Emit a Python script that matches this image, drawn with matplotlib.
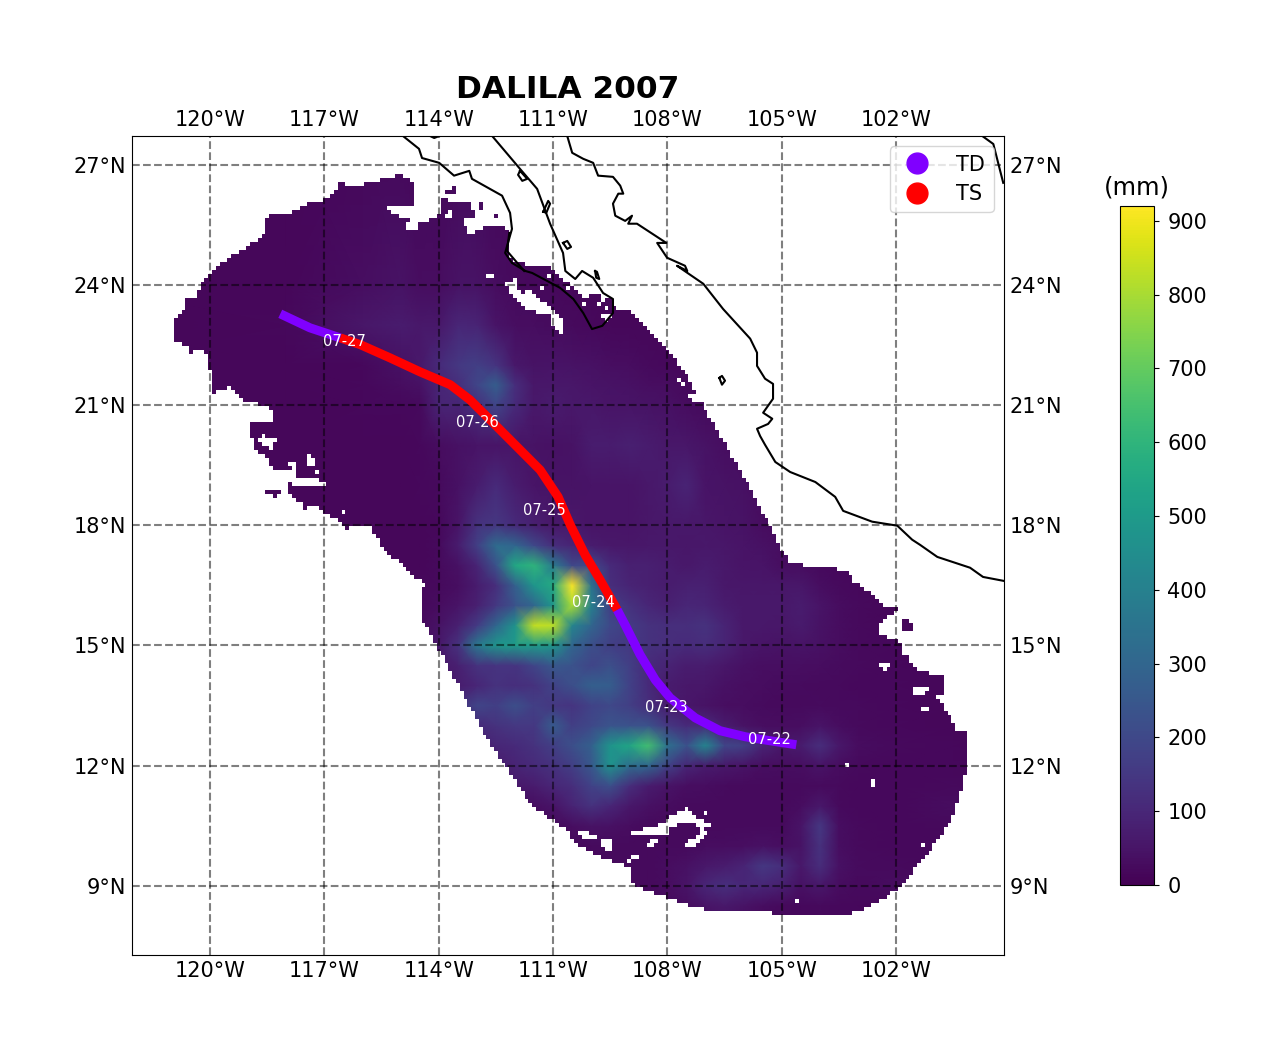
import numpy as np
import matplotlib
matplotlib.use("Agg")
import matplotlib.pyplot as plt
from matplotlib.colors import ListedColormap
from matplotlib.lines import Line2D
from matplotlib.path import Path

### rainfall (mm), rows south to north ###
rain_lon = [-123, -118, -116, -115, -114.5, -114, -113.5, -113, -112.5, -112, -111.5, -111, -110.5, -110, -109.5, -109,
            -108.5, -108, -107.5, -107, -106.5, -106, -105.5, -105, -104.5, -104, -103.5, -103, -102, -100.5, -99]
rain_lat = [7, 8.5, 9, 9.5, 10, 10.5, 11, 11.5, 12, 12.5, 13, 13.5, 14, 14.5, 15, 15.5, 16, 16.5, 17, 17.5, 18, 19, 20, 21, 21.5, 22, 23, 24, 28]
rain = [
    [15, 15, 15, 15, 15, 15, 15, 15, 15, 15, 15, 15, 15, 15, 15, 15, 15, 15, 15, 15, 15, 15, 15, 15, 15, 15, 15, 15, 15, 15, 15],
    [15, 15, 15, 15, 15, 15, 15, 15, 15, 15, 15, 15, 15, 15, 15, 20, 22, 25, 30, 50, 60, 45, 30, 25, 20, 22, 18, 18, 15, 15, 15],
    [15, 15, 15, 15, 15, 15, 15, 15, 15, 15, 15, 15, 15, 18, 20, 25, 25, 30, 50, 100, 125, 100, 100, 80, 40, 60, 30, 25, 30, 20, 15],
    [15, 15, 15, 15, 15, 15, 15, 15, 15, 15, 15, 15, 15, 18, 22, 25, 25, 30, 40, 60, 70, 90, 150, 120, 60, 120, 40, 28, 25, 20, 15],
    [15, 15, 15, 15, 15, 15, 15, 15, 15, 15, 15, 18, 20, 25, 25, 22, 22, 22, 25, 30, 30, 35, 40, 35, 45, 130, 35, 25, 20, 18, 15],
    [15, 15, 15, 15, 15, 15, 15, 15, 15, 15, 20, 25, 35, 45, 40, 30, 25, 22, 22, 22, 22, 22, 25, 25, 50, 150, 35, 22, 20, 25, 15],
    [15, 15, 15, 15, 15, 15, 15, 15, 15, 25, 35, 50, 90, 130, 100, 60, 40, 30, 25, 22, 22, 22, 22, 22, 30, 60, 25, 20, 20, 30, 15],
    [15, 15, 15, 15, 15, 15, 15, 15, 30, 60, 70, 100, 120, 180, 220, 120, 70, 50, 35, 30, 28, 25, 22, 22, 22, 28, 22, 20, 20, 25, 15],
    [15, 15, 15, 15, 15, 15, 15, 40, 70, 90, 110, 130, 170, 250, 470, 330, 300, 180, 100, 70, 60, 50, 35, 30, 35, 50, 30, 22, 20, 20, 15],
    [15, 15, 15, 15, 15, 15, 30, 70, 100, 110, 130, 170, 220, 280, 480, 540, 640, 340, 230, 420, 190, 170, 90, 60, 70, 120, 60, 30, 25, 18, 15],
    [15, 15, 15, 15, 15, 25, 60, 110, 130, 150, 150, 260, 170, 200, 240, 230, 230, 150, 110, 110, 70, 45, 35, 30, 35, 50, 30, 25, 20, 15, 15],
    [15, 15, 15, 15, 18, 40, 120, 190, 170, 220, 170, 150, 140, 180, 200, 170, 120, 70, 55, 45, 35, 30, 28, 25, 25, 28, 25, 22, 18, 15, 15],
    [15, 15, 15, 15, 20, 40, 70, 100, 130, 120, 130, 180, 220, 280, 270, 180, 110, 70, 60, 55, 40, 35, 30, 28, 28, 25, 22, 20, 18, 15, 15],
    [15, 15, 15, 15, 25, 60, 80, 130, 140, 140, 190, 250, 230, 190, 220, 170, 110, 90, 70, 70, 55, 40, 35, 35, 35, 30, 28, 22, 18, 15, 15],
    [15, 15, 15, 18, 30, 60, 130, 370, 480, 500, 500, 480, 300, 220, 170, 150, 130, 120, 110, 120, 90, 60, 50, 45, 50, 40, 30, 22, 18, 15, 15],
    [15, 15, 15, 18, 25, 45, 80, 160, 300, 470, 840, 830, 420, 300, 200, 160, 130, 120, 120, 130, 90, 60, 60, 55, 65, 45, 30, 22, 15, 15, 15],
    [15, 15, 15, 16, 20, 30, 50, 80, 150, 230, 300, 480, 800, 400, 170, 130, 100, 80, 100, 90, 70, 60, 60, 60, 70, 50, 30, 22, 15, 15, 15],
    [15, 15, 15, 15, 18, 25, 35, 70, 120, 280, 480, 560, 920, 350, 120, 90, 80, 70, 80, 80, 60, 55, 55, 55, 55, 35, 25, 20, 15, 15, 15],
    [15, 15, 15, 15, 15, 22, 40, 90, 230, 550, 600, 380, 200, 200, 110, 80, 80, 70, 60, 70, 60, 50, 50, 35, 30, 25, 20, 18, 15, 15, 15],
    [15, 15, 15, 15, 15, 22, 70, 170, 320, 300, 200, 120, 90, 70, 60, 55, 60, 60, 55, 60, 55, 50, 40, 30, 25, 20, 18, 15, 15, 15, 15],
    [15, 15, 15, 15, 15, 20, 50, 130, 150, 110, 80, 60, 60, 50, 50, 50, 55, 60, 60, 55, 50, 45, 30, 25, 20, 18, 15, 15, 15, 15, 15],
    [15, 15, 15, 15, 18, 22, 40, 70, 110, 70, 50, 45, 45, 50, 50, 50, 60, 70, 90, 50, 45, 40, 30, 22, 18, 15, 15, 15, 15, 15, 15],
    [15, 15, 15, 15, 18, 30, 40, 50, 50, 50, 45, 40, 45, 70, 70, 80, 70, 60, 55, 45, 35, 25, 20, 15, 15, 15, 15, 15, 15, 15, 15],
    [15, 15, 18, 20, 25, 90, 90, 120, 190, 110, 60, 70, 60, 60, 50, 50, 45, 40, 30, 25, 20, 15, 15, 15, 15, 15, 15, 15, 15, 15, 15],
    [15, 15, 18, 30, 40, 95, 120, 190, 270, 120, 55, 60, 55, 50, 45, 40, 35, 30, 25, 20, 18, 15, 15, 15, 15, 15, 15, 15, 15, 15, 15],
    [15, 15, 20, 40, 60, 110, 150, 170, 140, 60, 45, 50, 45, 40, 35, 30, 25, 20, 15, 15, 15, 15, 15, 15, 15, 15, 15, 15, 15, 15, 15],
    [15, 18, 55, 70, 60, 60, 100, 90, 50, 35, 30, 28, 25, 20, 15, 15, 15, 15, 15, 15, 15, 15, 15, 15, 15, 15, 15, 15, 15, 15, 15],
    [15, 15, 35, 45, 30, 30, 45, 45, 30, 25, 20, 18, 15, 15, 15, 15, 15, 15, 15, 15, 15, 15, 15, 15, 15, 15, 15, 15, 15, 15, 15],
    [15, 15, 15, 15, 15, 15, 15, 15, 15, 15, 15, 15, 15, 15, 15, 15, 15, 15, 15, 15, 15, 15, 15, 15, 15, 15, 15, 15, 15, 15, 15],
]

### edge of the rain area, lon/lat ###
swath_lon = [-121.00, -120.68, -120.60, -120.34, -120.26, -119.90, -119.42, -118.90, -118.50, -118.58, -118.40, -117.93, -117.40, -116.88, -116.62, -116.01, -115.80, -115.22, -115.09, -114.62, -114.62, -114.78, -115.41, -115.28, -114.78, -114.83, -114.57, -114.52, -113.99, -113.91, -113.47, -113.20, -113.05, -113.39, -113.18, -112.68, -112.15, -112.15, -112.00, -111.55, -111.03, -110.82, -110.47, -110.16, -109.95, -109.50, -109.37, -108.93, -108.40, -108.01, -107.40, -107.27, -107.46, -107.33, -107.09, -106.70, -105.96, -105.12, -104.78, -104.60, -104.44, -103.94, -103.47, -103.18, -103.15, -102.94, -102.21, -102.08, -101.97, -102.21, -102.50, -102.42, -102.03, -101.89, -101.89, -101.68, -101.45, -101.11, -100.79, -100.69, -100.98, -100.58, -100.37, -100.19, -100.19, -100.29, -100.48, -100.77, -101.29, -101.92, -102.29, -102.84, -103.47, -103.84, -104.02, -104.23, -104.39, -105.28, -105.28, -106.72, -107.17, -108.09, -108.72, -108.98, -108.95, -109.53, -109.98, -110.53, -110.58, -110.97, -111.39, -111.71, -112.21, -112.60, -112.99, -113.70, -113.99, -114.17, -114.49, -114.49, -114.36, -114.75, -115.41, -115.67, -115.75, -116.20, -116.41, -116.67, -117.03, -117.24, -117.51, -117.56, -117.90, -117.98, -117.82, -117.45, -116.85, -117.03, -117.30, -117.72, -117.72, -118.35, -118.50, -118.82, -118.90, -119.00, -118.90, -118.35, -118.32, -118.64, -119.08, -119.50, -119.90, -120.03, -120.13, -120.52, -120.60, -120.92]
swath_lat = [22.98, 23.43, 23.68, 23.68, 23.98, 24.40, 24.73, 25.03, 25.30, 25.60, 25.73, 25.80, 26.05, 26.15, 26.53, 26.48, 26.60, 26.65, 26.80, 26.53, 26.05, 25.93, 25.98, 25.80, 25.65, 25.35, 25.35, 25.53, 25.73, 26.15, 26.03, 26.03, 25.73, 25.60, 25.28, 25.53, 25.40, 24.80, 24.55, 24.50, 24.43, 24.18, 23.98, 23.65, 23.80, 23.65, 23.43, 23.30, 22.81, 22.41, 21.61, 21.31, 21.23, 21.06, 21.03, 20.36, 19.13, 17.64, 17.01, 17.11, 16.99, 17.01, 16.91, 16.81, 16.56, 16.51, 15.94, 16.01, 15.89, 15.76, 15.46, 15.26, 15.14, 15.06, 14.72, 14.72, 14.34, 14.32, 14.22, 13.72, 13.82, 13.22, 12.82, 12.92, 11.82, 11.39, 10.82, 10.32, 9.65, 8.97, 8.70, 8.40, 8.22, 8.32, 8.22, 8.32, 8.22, 8.22, 8.32, 8.32, 8.45, 8.72, 8.95, 9.15, 9.47, 9.65, 9.82, 10.15, 10.35, 10.60, 10.90, 11.19, 11.97, 12.47, 13.14, 14.39, 14.89, 15.21, 15.76, 16.26, 16.51, 16.84, 17.39, 17.71, 17.96, 17.99, 17.91, 18.14, 18.31, 18.49, 18.41, 18.51, 18.76, 19.08, 19.01, 18.94, 18.96, 19.06, 19.21, 19.21, 19.38, 19.41, 19.71, 19.83, 20.21, 20.38, 20.58, 20.53, 20.86, 21.01, 21.06, 21.43, 21.31, 22.06, 22.41, 22.31, 22.48, 22.56]

# detached pieces of the rain area
islands = [
    [(-118.69, 18.76), (-118.43, 18.89), (-118.08, 18.91), (-118.22, 18.71), (-117.98, 18.59), (-118.29, 18.71)],
    [(-101.92, 15.71), (-101.76, 15.71), (-101.58, 15.51), (-101.58, 15.39), (-101.82, 15.41)],
    [(-112.99, 26.10), (-112.78, 25.98), (-112.92, 25.80)],
    [(-112.60, 25.80), (-112.39, 25.68), (-112.47, 25.60)],
    [(-113.99, 26.38), (-113.57, 26.43), (-113.52, 26.23), (-113.91, 26.33)],
]

# no-data gaps inside the rain area
holes = [
    [(-118.74, 20.08), (-118.61, 20.26), (-118.48, 20.18), (-118.35, 20.21), (-118.24, 20.08), (-118.37, 20.06), (-118.35, 19.83), (-118.48, 19.93), (-118.61, 20.01)],
    [(-117.95, 19.51), (-117.85, 19.58), (-117.72, 19.48), (-117.85, 19.38)],
    [(-117.48, 19.63), (-117.38, 19.76), (-117.22, 19.58), (-117.40, 19.43)],
    [(-117.24, 19.31), (-117.19, 19.36), (-117.14, 19.31), (-117.19, 19.23)],
    [(-116.56, 18.31), (-116.51, 18.39), (-116.43, 18.31), (-116.51, 18.24)],
    [(-112.76, 24.18), (-112.65, 24.28), (-112.55, 24.18), (-112.65, 24.08)],
    [(-112.26, 24.03), (-112.00, 24.15), (-111.87, 23.80), (-111.55, 23.85), (-111.37, 23.65), (-110.97, 23.35), (-110.71, 23.05), (-110.71, 22.66), (-111.03, 22.98), (-111.10, 23.23), (-111.63, 23.35), (-112.00, 23.65)],
    [(-113.86, 25.73), (-113.73, 25.85), (-113.60, 25.73), (-113.73, 25.60)],
    [(-111.37, 23.90), (-111.29, 23.98), (-111.21, 23.90), (-111.29, 23.83)],
    [(-111.16, 24.23), (-111.08, 24.30), (-111.00, 24.23), (-111.08, 24.15)],
    [(-110.82, 24.10), (-110.68, 24.23), (-110.61, 24.15), (-110.74, 24.03)],
    [(-110.68, 23.90), (-110.61, 23.98), (-110.53, 23.90), (-110.61, 23.83)],
    [(-110.29, 23.53), (-110.21, 23.63), (-110.13, 23.53), (-110.21, 23.43)],
    [(-109.85, 23.55), (-109.71, 23.73), (-109.61, 23.65), (-109.74, 23.48)],
    [(-109.66, 23.40), (-109.58, 23.48), (-109.50, 23.40), (-109.58, 23.33)],
    [(-109.77, 23.20), (-109.50, 23.28), (-109.45, 23.18), (-109.66, 23.08)],
    [(-107.77, 21.61), (-107.69, 21.66), (-107.51, 21.48), (-107.59, 21.41)],
    [(-102.47, 14.49), (-102.39, 14.59), (-102.21, 14.59), (-102.13, 14.49), (-102.29, 14.34)],
    [(-101.58, 13.84), (-101.50, 13.97), (-101.19, 13.97), (-101.16, 13.87), (-101.50, 13.74)],
    [(-101.37, 13.39), (-101.26, 13.49), (-101.16, 13.39), (-101.26, 13.29)],
    [(-103.34, 11.99), (-103.28, 12.07), (-103.23, 11.99), (-103.28, 11.92)],
    [(-102.73, 11.59), (-102.55, 11.77), (-102.58, 11.64), (-102.52, 11.47), (-102.60, 11.47)],
    [(-101.34, 10.00), (-101.29, 10.07), (-101.24, 10.00), (-101.29, 9.93)],
    [(-104.68, 8.60), (-104.60, 8.67), (-104.52, 8.60), (-104.60, 8.52)],
    [(-108.95, 10.35), (-108.45, 10.47), (-108.09, 10.57), (-107.96, 10.72), (-107.48, 10.95), (-107.27, 10.70), (-106.99, 10.60), (-106.85, 10.50), (-107.09, 10.40), (-107.22, 10.45), (-107.35, 10.60), (-107.66, 10.57), (-107.90, 10.47), (-107.96, 10.22), (-108.53, 10.22), (-108.95, 10.22)],
    [(-107.54, 10.02), (-107.01, 10.40), (-106.93, 10.27), (-107.40, 9.95)],
    [(-108.53, 10.02), (-108.32, 10.20), (-108.22, 10.10), (-108.43, 9.95)],
    [(-109.03, 9.60), (-108.85, 9.80), (-108.72, 9.70), (-108.95, 9.60)],
    [(-109.77, 10.10), (-109.61, 10.20), (-109.45, 10.15), (-109.40, 9.95), (-109.53, 9.85), (-109.71, 9.97)],
    [(-110.34, 10.32), (-110.16, 10.40), (-109.85, 10.22), (-109.98, 10.15), (-110.21, 10.22)],
    [(-107.06, 10.80), (-107.01, 10.87), (-106.96, 10.80), (-107.01, 10.72)],
]

### coastlines ###
coast_lines = [
    # Baja California
    [(-114.94, 27.72), (-114.52, 27.40), (-114.44, 27.17), (-113.99, 27.05), (-113.60, 26.73), (-113.20, 26.85), (-113.13, 26.65), (-112.34, 26.23), (-112.13, 25.80), (-112.08, 25.40), (-112.26, 24.80), (-112.08, 24.55), (-111.73, 24.35), (-111.55, 24.30), (-110.82, 23.93), (-110.47, 23.65), (-110.21, 23.30), (-109.98, 22.90), (-109.71, 22.98), (-109.43, 23.30), (-109.43, 23.65), (-109.69, 23.80), (-109.95, 24.18), (-110.24, 24.35), (-110.42, 24.15), (-110.68, 24.35), (-110.74, 24.80), (-111.08, 25.53), (-111.42, 26.40), (-111.87, 26.90), (-112.60, 27.72)],
    [(-112.15, 25.30), (-112.21, 24.85), (-111.76, 24.35)],
    # mainland
    [(-110.63, 27.72), (-110.50, 27.30), (-110.21, 27.15), (-109.95, 27.05), (-109.82, 26.73), (-109.43, 26.70), (-109.24, 26.48), (-109.16, 26.28), (-109.29, 26.28), (-109.43, 26.03), (-109.37, 25.73), (-109.11, 25.60), (-108.93, 25.73), (-109.03, 25.53), (-108.80, 25.53), (-108.19, 25.15), (-108.03, 25.05), (-108.27, 25.05), (-108.01, 24.68), (-107.54, 24.48), (-107.48, 24.35), (-107.75, 24.48), (-107.06, 24.03), (-106.54, 23.40), (-105.83, 22.66), (-105.65, 22.31), (-105.65, 21.98), (-105.44, 21.66), (-105.23, 21.53), (-105.23, 21.16), (-105.49, 20.81), (-105.25, 20.66), (-105.36, 20.53), (-105.65, 20.41), (-105.57, 20.23), (-105.44, 20.01), (-105.17, 19.58), (-104.78, 19.33), (-104.12, 19.08), (-103.60, 18.71), (-103.39, 18.36), (-102.63, 18.09), (-101.97, 17.99), (-101.58, 17.64), (-101.37, 17.51), (-100.92, 17.21), (-100.06, 16.94), (-99.72, 16.71), (-99.17, 16.61)],
    [(-99.74, 27.72), (-99.45, 27.52), (-99.19, 26.55)],
    [(-114.23, 27.72), (-114.12, 27.67), (-113.99, 27.72)],
    # small islands
    [(-111.87, 26.85), (-111.68, 26.65), (-111.81, 26.60), (-111.92, 26.75), (-111.87, 26.85)],
    [(-111.26, 25.83), (-111.13, 26.10), (-111.08, 26.03), (-111.18, 25.80), (-111.26, 25.83)],
    [(-110.74, 25.05), (-110.63, 25.10), (-110.53, 24.95), (-110.63, 24.90), (-110.74, 25.05)],
    [(-109.90, 24.35), (-109.85, 24.33), (-109.79, 24.15), (-109.87, 24.18), (-109.90, 24.35)],
    [(-106.64, 21.68), (-106.57, 21.73), (-106.49, 21.61), (-106.57, 21.51), (-106.64, 21.68)],
]

### best track, oldest first ###
track_lon = [-104.62, -105.31, -105.96, -106.62, -107.27, -107.93, -108.32, -108.72, -109.11, -109.32, -109.77, -110.16, -110.55, -110.87, -111.34, -112.00, -112.65, -113.18, -113.70, -114.49, -115.28, -116.06, -116.59, -117.38, -118.16]
track_lat = [12.52, 12.62, 12.72, 12.87, 13.19, 13.69, 14.14, 14.77, 15.51, 15.89, 16.64, 17.26, 18.01, 18.71, 19.38, 20.01, 20.63, 21.13, 21.51, 21.83, 22.18, 22.51, 22.68, 22.93, 23.28]
track_status = ["TD", "TD", "TD", "TD", "TD", "TD", "TD", "TD", "TD", "TS", "TS", "TS", "TS", "TS", "TS", "TS", "TS", "TS", "TS", "TS", "TS", "TS", "TD", "TD", "TD"]
status_colors = {"TD": "#8000ff", "TS": "#ff0000"}

date_labels = ["07-22", "07-23", "07-24", "07-25", "07-26", "07-27"]
date_lon = [-105.33, -108.03, -109.95, -111.24, -112.99, -116.48]
date_lat = [12.64, 13.44, 16.06, 18.36, 20.56, 22.58]

lon_ticks = [-120, -117, -114, -111, -108, -105, -102]
lat_ticks = [9, 12, 15, 18, 21, 24, 27]

xmin, xmax, ymin, ymax = -122.05, -99.17, 7.27, 27.72

fig = plt.figure(figsize=(12.83, 10.55), dpi=100)
ax = fig.add_axes([132 / 1283, 100 / 1055, 872 / 1283, 819 / 1055])

mesh = ax.pcolormesh(rain_lon, rain_lat, np.array(rain, dtype=float), shading="gouraud", cmap="viridis",
                     vmin=0, vmax=920, zorder=1)

# no-data mask on the 0.1 degree rain grid, this gives the stepped edge
grid_x = np.arange(xmin, xmax, 0.1)
grid_y = np.arange(ymin, ymax, 0.1)
gx, gy = np.meshgrid(grid_x + 0.05, grid_y + 0.05)
centres = np.column_stack([gx.ravel(), gy.ravel()])
inside = np.zeros(len(centres), dtype=bool)
for part in [list(zip(swath_lon, swath_lat))] + islands:
    inside |= Path(part + [part[0]]).contains_points(centres)
for part in holes:
    inside &= ~Path(part + [part[0]]).contains_points(centres)
inside = inside.reshape(gx.shape)
ax.imshow(np.ma.masked_where(inside, np.ones(inside.shape)), cmap=ListedColormap(["white"]), origin="lower",
          interpolation="nearest", aspect="auto", extent=[grid_x[0], grid_x[-1] + 0.1, grid_y[0], grid_y[-1] + 0.1], zorder=1.5)

for line in coast_lines:
    xs, ys = zip(*line)
    ax.plot(xs, ys, color="k", lw=1.5, zorder=2)

# one stretch of line per run of equal status
start = 0
for i in range(1, len(track_status) + 1):
    if i == len(track_status) or track_status[i] != track_status[start]:
        stop = min(i + 1, len(track_status))
        ax.plot(track_lon[start:stop], track_lat[start:stop], color=status_colors[track_status[start]],
                lw=6.5, solid_capstyle="butt", zorder=3)
        start = i

for label, x, y in zip(date_labels, date_lon, date_lat):
    ax.text(x, y, label, color="w", fontsize=10.5, ha="center", va="center", zorder=4)

ax.set_xlim(xmin, xmax)
ax.set_ylim(ymin, ymax)
ax.set_xticks(lon_ticks)
ax.set_xticklabels([f"{abs(v)}°W" for v in lon_ticks])
ax.set_yticks(lat_ticks)
ax.set_yticklabels([f"{v}°N" for v in lat_ticks])
ax.tick_params(length=0, labelsize=15, pad=4, top=True, labeltop=True, right=True, labelright=True)
ax.set_axisbelow(False)
ax.grid(color="k", alpha=0.5, ls="--", lw=1.5)
ax.set_title("DALILA 2007", fontsize=22.5, fontweight="bold", pad=27)

handles = [Line2D([], [], marker="o", ls="none", ms=15, color=status_colors[s]) for s in ["TD", "TS"]]
ax.legend(handles, ["TD", "TS"], loc="upper right", fontsize=15, labelspacing=0.45, handlelength=1.8, handletextpad=1.0)

cax = fig.add_axes([1120 / 1283, 170 / 1055, 34 / 1283, 679 / 1055])
cbar = fig.colorbar(mesh, cax=cax, ticks=range(0, 901, 100))
cbar.ax.tick_params(labelsize=15, pad=6)
cax.set_title("(mm)", fontsize=17.5, pad=8)

fig.savefig("out.png", dpi=100)
